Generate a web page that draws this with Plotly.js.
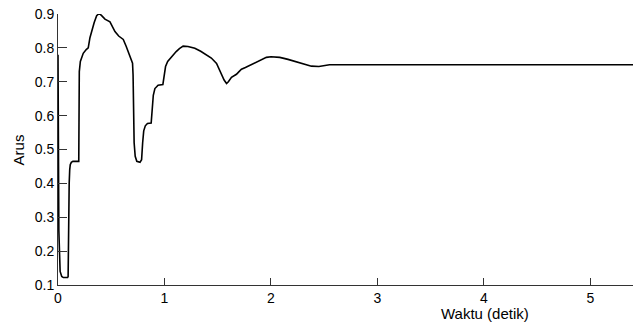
<!DOCTYPE html>
<html>
<head>
<meta charset="utf-8">
<script src="https://cdn.plot.ly/plotly-3.0.1.min.js"></script>
<style>html,body{margin:0;padding:0;background:#fff;}#chart{width:634px;height:326px;}</style>
</head>
<body>
<div id="chart"></div>
<script>
const waktu = [0, 0.003, 0.008, 0.02, 0.035, 0.05, 0.09, 0.095, 0.098, 0.1, 0.105, 0.11, 0.115, 0.125, 0.14, 0.195,
  0.198, 0.2, 0.21, 0.237, 0.265, 0.284, 0.3, 0.316, 0.34, 0.363, 0.387, 0.41, 0.441, 0.488, 0.51, 0.535, 0.57, 0.613,
  0.64, 0.66, 0.685, 0.7, 0.705, 0.71, 0.715, 0.725, 0.74, 0.77, 0.785, 0.795, 0.805, 0.82, 0.84, 0.875, 0.885, 0.895,
  0.91, 0.94, 0.985, 0.995, 1.01, 1.03, 1.066, 1.09, 1.11, 1.14, 1.175, 1.22, 1.285, 1.34, 1.395, 1.44, 1.489, 1.51,
  1.536, 1.56, 1.583, 1.6, 1.629, 1.676, 1.7, 1.723, 1.76, 1.8, 1.864, 1.9, 1.957, 2.0, 2.083, 2.16, 2.239, 2.3, 2.38,
  2.45, 2.52, 2.55, 5.4];
const arus = [0.78, 0.5, 0.26, 0.14, 0.125, 0.122, 0.122, 0.125, 0.3, 0.35, 0.4, 0.44, 0.455, 0.462, 0.465, 0.465,
  0.6, 0.73, 0.76, 0.784, 0.795, 0.8, 0.83, 0.85, 0.875, 0.895, 0.902, 0.895, 0.885, 0.877, 0.865, 0.848, 0.835, 0.825,
  0.805, 0.789, 0.77, 0.755, 0.72, 0.6, 0.52, 0.48, 0.465, 0.462, 0.47, 0.52, 0.555, 0.57, 0.577, 0.578, 0.62, 0.66,
  0.68, 0.69, 0.692, 0.72, 0.745, 0.76, 0.774, 0.78, 0.789, 0.798, 0.805, 0.804, 0.799, 0.79, 0.779, 0.77, 0.754, 0.74,
  0.72, 0.705, 0.695, 0.7, 0.713, 0.722, 0.73, 0.737, 0.742, 0.748, 0.759, 0.765, 0.772, 0.774, 0.772, 0.766, 0.759, 0.752, 0.746,
  0.745, 0.748, 0.75, 0.75];
const xTicks = [0, 1, 2, 3, 4, 5];
const yTicks = [0.1, 0.2, 0.3, 0.4, 0.5, 0.6, 0.7, 0.8, 0.9];
const xTitle = 'Waktu (detik)';
const yTitle = 'Arus';

const tickFont = {family: 'Liberation Sans, Arial, sans-serif', size: 14, color: '#000'};
const titleFont = {family: 'Liberation Sans, Arial, sans-serif', size: 15, color: '#000'};
Plotly.newPlot('chart', [{
  x: waktu, y: arus, type: 'scatter', mode: 'lines',
  line: {color: '#000', width: 1.6}, hoverinfo: 'skip'
}], {
  width: 634, height: 326,
  margin: {l: 58, r: 1, t: 14, b: 41, pad: 0},
  paper_bgcolor: '#fff', plot_bgcolor: '#fff',
  showlegend: false,
  font: tickFont,
  xaxis: {
    range: [0, 5.4], tickvals: xTicks, ticktext: xTicks.map(String),
    ticks: 'inside', ticklen: 7, tickcolor: '#333', showgrid: false, zeroline: false,
    showline: true, linecolor: '#333', linewidth: 1, mirror: false,
    tickfont: tickFont
  },
  yaxis: {
    range: [0.1, 0.9], tickvals: yTicks, ticktext: yTicks.map(v => v.toFixed(1)),
    ticks: 'inside', ticklen: 9, tickcolor: '#333', showgrid: false, zeroline: false,
    showline: true, linecolor: '#333', linewidth: 1, mirror: false,
    tickfont: tickFont
  },
  annotations: [
    {text: xTitle, xref: 'paper', yref: 'paper', x: 0.743, y: -0.107, xanchor: 'center', yanchor: 'middle', showarrow: false, font: titleFont},
    {text: yTitle, xref: 'paper', yref: 'paper', x: -0.068, y: 0.5, xanchor: 'center', yanchor: 'middle', textangle: -90, showarrow: false, font: titleFont}
  ]
}, {displayModeBar: false, staticPlot: true});
</script>
</body>
</html>
